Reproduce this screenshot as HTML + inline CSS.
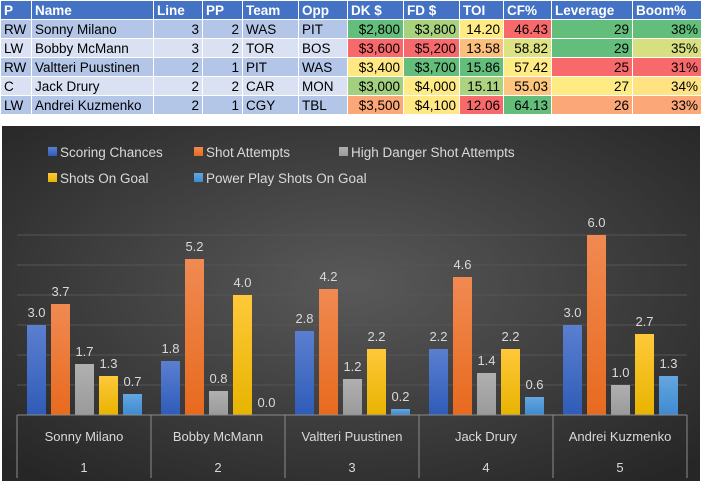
<!DOCTYPE html>
<html><head><meta charset="utf-8"><style>
body{margin:0;width:702px;height:481px;background:#fff;font-family:"Liberation Sans",sans-serif;overflow:hidden;position:relative}
table{position:absolute;left:0;top:0;border-collapse:collapse;font-size:13.5px;table-layout:fixed;width:701px}
td,th{height:18px;padding:0 3px;border:1px solid #fff;white-space:nowrap;overflow:hidden}
th{background:#4472c4;color:#fff;text-align:left;font-weight:bold}
tr.a td{background:#b4c6e7}tr.b td{background:#d9e1f2}
.r{text-align:right}
#chart{position:absolute;left:2px;top:126px}
</style></head><body>
<table>
<colgroup><col style="width:31px"><col style="width:122px"><col style="width:49px"><col style="width:40px"><col style="width:56px"><col style="width:49px"><col style="width:56px"><col style="width:56px"><col style="width:44px"><col style="width:48px"><col style="width:81px"><col style="width:69px"></colgroup>
<tr><th>P</th><th>Name</th><th>Line</th><th>PP</th><th>Team</th><th>Opp</th><th>DK $</th><th>FD $</th><th>TOI</th><th>CF%</th><th>Leverage</th><th>Boom%</th></tr>
<tr class="a"><td>RW</td><td>Sonny Milano</td><td class="r">3</td><td class="r">2</td><td>WAS</td><td>PIT</td><td class="r" style="background:#63be7b">$2,800</td><td class="r" style="background:#a9d27f">$3,800</td><td class="r" style="background:#ffeb84">14.20</td><td class="r" style="background:#f8696b">46.43</td><td class="r" style="background:#63be7b">29</td><td class="r" style="background:#63be7b">38%</td></tr>
<tr class="b"><td>LW</td><td>Bobby McMann</td><td class="r">3</td><td class="r">2</td><td>TOR</td><td>BOS</td><td class="r" style="background:#f8696b">$3,600</td><td class="r" style="background:#f8696b">$5,200</td><td class="r" style="background:#fcbf7b">13.58</td><td class="r" style="background:#dde283">58.82</td><td class="r" style="background:#63be7b">29</td><td class="r" style="background:#d7df81">35%</td></tr>
<tr class="a"><td>RW</td><td>Valtteri Puustinen</td><td class="r">2</td><td class="r">1</td><td>PIT</td><td>WAS</td><td class="r" style="background:#ffe884">$3,400</td><td class="r" style="background:#63be7b">$3,700</td><td class="r" style="background:#63be7b">15.86</td><td class="r" style="background:#ffeb84">57.42</td><td class="r" style="background:#f8696b">25</td><td class="r" style="background:#f8696b">31%</td></tr>
<tr class="b"><td>C</td><td>Jack Drury</td><td class="r">2</td><td class="r">2</td><td>CAR</td><td>MON</td><td class="r" style="background:#a2d07f">$3,000</td><td class="r" style="background:#ffeb84">$4,000</td><td class="r" style="background:#acd380">15.11</td><td class="r" style="background:#fdc57d">55.03</td><td class="r" style="background:#ffeb84">27</td><td class="r" style="background:#ffe383">34%</td></tr>
<tr class="a"><td>LW</td><td>Andrei Kuzmenko</td><td class="r">2</td><td class="r">1</td><td>CGY</td><td>TBL</td><td class="r" style="background:#fba777">$3,500</td><td class="r" style="background:#ffe884">$4,100</td><td class="r" style="background:#f8696b">12.06</td><td class="r" style="background:#63be7b">64.13</td><td class="r" style="background:#fba777">26</td><td class="r" style="background:#fba777">33%</td></tr>
</table>
<svg id="chart" width="698" height="355">
<defs>
<radialGradient id="bg" cx="50%" cy="45%" r="70%"><stop offset="0" stop-color="#595959"/><stop offset="1" stop-color="#262626"/></radialGradient>
<linearGradient id="g0" x1="0" y1="0" x2="0" y2="1"><stop offset="0" stop-color="#5b7fd0"/><stop offset="1" stop-color="#2f5cb8"/></linearGradient>
<linearGradient id="g1" x1="0" y1="0" x2="0" y2="1"><stop offset="0" stop-color="#f08a52"/><stop offset="1" stop-color="#e86a1e"/></linearGradient>
<linearGradient id="g2" x1="0" y1="0" x2="0" y2="1"><stop offset="0" stop-color="#b0b0b0"/><stop offset="1" stop-color="#9a9a9a"/></linearGradient>
<linearGradient id="g3" x1="0" y1="0" x2="0" y2="1"><stop offset="0" stop-color="#ffc83a"/><stop offset="1" stop-color="#e8b400"/></linearGradient>
<linearGradient id="g4" x1="0" y1="0" x2="0" y2="1"><stop offset="0" stop-color="#64a6e0"/><stop offset="1" stop-color="#3f8ad0"/></linearGradient>
</defs>
<rect width="698" height="355" fill="url(#bg)"/>
<g id="legend"></g><g id="grid"></g><g id="bars"></g><g id="axis"></g>
</svg>
<script>
const players=["Sonny Milano","Bobby McMann","Valtteri Puustinen","Jack Drury","Andrei Kuzmenko"];
const ranks=["1","2","3","4","5"];
const seriesNames=["Scoring Chances","Shot Attempts","High Danger Shot Attempts","Shots On Goal","Power Play Shots On Goal"];
const scoringChances=[3.0,1.8,2.8,2.2,3.0];
const shotAttempts=[3.7,5.2,4.2,4.6,6.0];
const highDanger=[1.7,0.8,1.2,1.4,1.0];
const shotsOnGoal=[1.3,4.0,2.2,2.2,2.7];
const ppShotsOnGoal=[0.7,0.0,0.2,0.6,1.3];
const gridTicks=[1,2,3,4,5,6];
const series=[scoringChances,shotAttempts,highDanger,shotsOnGoal,ppShotsOnGoal];
const NS="http://www.w3.org/2000/svg";
const X0=15,CW=134,BASE=289,UNIT=30;
const y=v=>BASE-v*UNIT;
const xg=i=>X0+i*CW;
function mk(t,a,p){const e=document.createElementNS(NS,t);for(const k in a)e.setAttribute(k,a[k]);p.appendChild(e);return e;}
const grid=document.getElementById('grid'),bars=document.getElementById('bars'),axis=document.getElementById('axis'),leg=document.getElementById('legend');
gridTicks.forEach(t=>{const l=mk('line',{x1:X0,x2:X0+5*CW,y1:y(t),y2:y(t),stroke:'#555','stroke-width':1},grid);

});
series.forEach((s,k)=>{s.forEach((v,i)=>{const bx=xg(i)+10+k*24;
const r=mk('rect',{x:bx,y:y(v),width:19,height:v*UNIT,fill:'url(#g'+k+')'},bars);


const t=mk('text',{x:bx+9.5,y:y(v)-8,'text-anchor':'middle',fill:'#d9d9d9','font-size':13},bars);t.textContent=v.toFixed(1);

});});
const ax=mk('line',{x1:X0,x2:X0+5*CW,y1:BASE,y2:BASE,stroke:'#8c8c8c'},axis);


for(let i=0;i<=5;i++){const l=mk('line',{x1:xg(i),x2:xg(i),y1:BASE,y2:352,stroke:'#8c8c8c'},axis);

}
players.forEach((p,i)=>{const t=mk('text',{x:xg(i)+CW/2,y:315,'text-anchor':'middle',fill:'#d9d9d9','font-size':13},axis);t.textContent=p;


const n=mk('text',{x:xg(i)+CW/2,y:346,'text-anchor':'middle',fill:'#d9d9d9','font-size':13},axis);n.textContent=ranks[i];

});
const lpos=[[46,31],[192,31],[337,31],[46,57],[192,57]];
seriesNames.forEach((s,k)=>{const g=mk('g',{},leg);


mk('rect',{x:lpos[k][0],y:lpos[k][1]-10,width:9,height:9,fill:'url(#g'+k+')'},g);
const t=mk('text',{x:lpos[k][0]+12,y:lpos[k][1],fill:'#d9d9d9','font-size':13.5},g);t.textContent=s;});
</script>
</body></html>
